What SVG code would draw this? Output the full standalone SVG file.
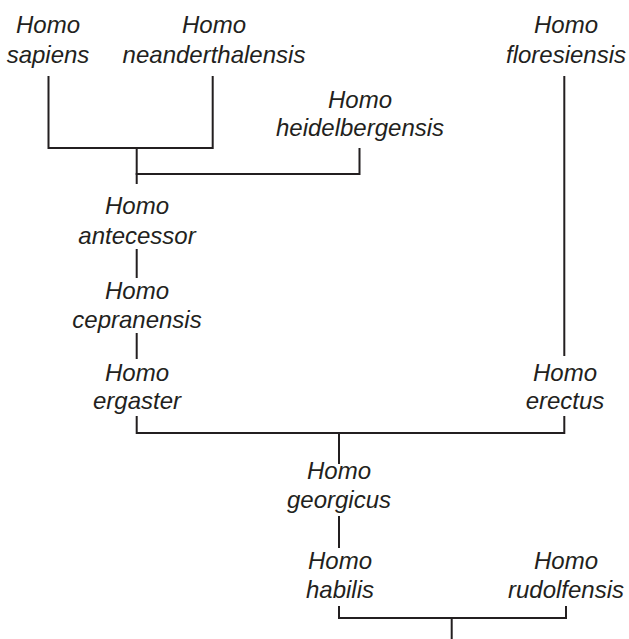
<svg xmlns="http://www.w3.org/2000/svg" width="629" height="639" viewBox="0 0 629 639">
<style>
text{font-family:"Liberation Sans",Arial,sans-serif;font-style:italic;font-size:24px;fill:#231f20;text-anchor:middle}
.c{fill:none;stroke:#231f20;stroke-width:2;stroke-linecap:square;stroke-linejoin:miter}
</style>
<rect width="629" height="639" fill="#fff"/>
<g id="connectors" class="c">
<path d="M48.5,77V148H212.7V77"/>
<path d="M136.7,148V183"/>
<path d="M136.7,174H359.5V149"/>
<path d="M136.7,250V277"/>
<path d="M136.7,334V358"/>
<path d="M136.7,417V433H564.3V417"/>
<path d="M564.3,77V355"/>
<path d="M339,433V463"/>
<path d="M339,517V547"/>
<path d="M339,607V618H566V607"/>
<path d="M451.7,618V639"/>
</g>
<g id="sapiens"><text x="48" y="33">Homo</text><text x="48" y="63">sapiens</text></g>
<g id="neanderthalensis"><text x="214" y="33">Homo</text><text x="214" y="63">neanderthalensis</text></g>
<g id="floresiensis"><text x="566" y="33">Homo</text><text x="566" y="63">floresiensis</text></g>
<g id="heidelbergensis"><text x="360" y="108">Homo</text><text x="360" y="136">heidelbergensis</text></g>
<g id="antecessor"><text x="137" y="214">Homo</text><text x="137" y="244">antecessor</text></g>
<g id="cepranensis"><text x="137" y="299">Homo</text><text x="137" y="328">cepranensis</text></g>
<g id="ergaster"><text x="137" y="381">Homo</text><text x="137" y="409">ergaster</text></g>
<g id="erectus"><text x="565" y="381">Homo</text><text x="565" y="409">erectus</text></g>
<g id="georgicus"><text x="339" y="479">Homo</text><text x="339" y="508">georgicus</text></g>
<g id="habilis"><text x="340" y="569">Homo</text><text x="340" y="598">habilis</text></g>
<g id="rudolfensis"><text x="566" y="569">Homo</text><text x="566" y="598">rudolfensis</text></g>
</svg>
